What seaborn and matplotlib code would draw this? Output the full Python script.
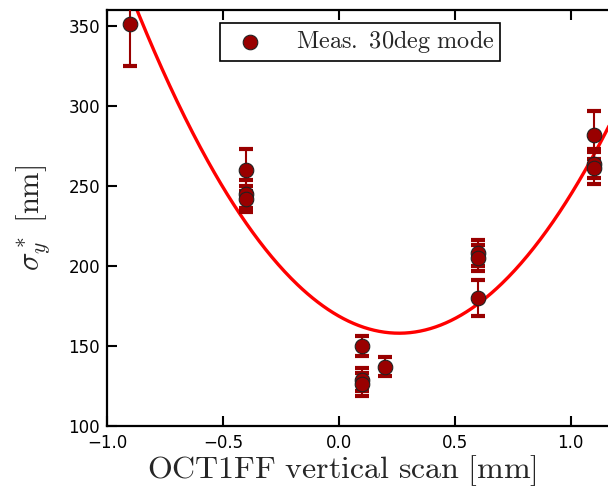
import numpy as np
import pandas as pd
import matplotlib
matplotlib.use("Agg")
import matplotlib.pyplot as plt
import seaborn as sns

# ---- data ----
scan_mm = [-0.90, -0.40, -0.40, -0.40, 0.10, 0.10, 0.10, 0.20, 0.60, 0.60, 0.60, 1.10, 1.10, 1.10]
sigma_nm = [351, 260, 245, 242, 150, 129, 126, 137, 208, 205, 180, 282, 264, 261]
sigma_err = [26, 13, 9, 8, 6, 7, 7, 6, 8, 8, 11.5, 15, 9, 10]
# parabolic fit: sigma = a*(x - x0)^2 + s0
fit_params = [158.0, 0.26, 158.0]
x_ticks = [-1.0, -0.5, 0.0, 0.5, 1.0]
y_ticks = [100, 150, 200, 250, 300, 350]
legend_label = r'$\mathrm{Meas.\ 30deg\ mode}$'

sns.set_style("ticks")
plt.rcParams.update({
    "mathtext.fontset": "cm",
    "xtick.direction": "in",
    "ytick.direction": "in",
    "xtick.top": True,
    "ytick.right": False,
})

df = pd.DataFrame({"x": scan_mm, "y": sigma_nm, "err": sigma_err})
xf = np.linspace(-1.0, 1.2, 400)
a, x0, s0 = fit_params
fit_df = pd.DataFrame({"x": xf, "y": a * (xf - x0) ** 2 + s0})

fig = plt.figure(figsize=(6.08, 4.88), dpi=100)
ax = fig.add_axes([107 / 608, 62 / 488, 510 / 608, 416 / 488])

sns.lineplot(data=fit_df, x="x", y="y", ax=ax, color="#ff0000", lw=2.4, zorder=2, legend=False)
ax.errorbar(df["x"], df["y"], yerr=df["err"], fmt="none", ecolor="#990000",
            elinewidth=1.5, capsize=5, capthick=3, zorder=3)
sns.scatterplot(data=df, x="x", y="y", ax=ax, color="#990000", s=110,
                edgecolor="#222222", linewidth=0.8, zorder=4, label=legend_label)

ax.set_xlim(-1.0, 1.2)
ax.set_ylim(100, 360)
ax.set_xticks(x_ticks)
ax.set_yticks(y_ticks)
ax.set_xticklabels([f"{v:.1f}".replace("-", "\u2212") for v in x_ticks])
ax.tick_params(axis="both", which="major", labelsize=12, length=7, width=1.5, pad=5, color="black", labelcolor="black")
ax.tick_params(axis="x", pad=6)
for sp in ax.spines.values():
    sp.set_linewidth(1.6)
    sp.set_color("black")

ax.set_xlabel(r'$\mathrm{OCT1FF\ vertical\ scan\ [mm]}$', fontsize=23)
ax.set_ylabel(r'$\sigma_y^*\ \mathrm{[nm]}$', fontsize=22)
ax.xaxis.set_label_coords(0.461, -0.066)
ax.yaxis.set_label_coords(-0.105, 0.5)

leg = ax.legend(loc="upper left", bbox_to_anchor=(0.222, 0.969), fontsize=17.5,
                frameon=True, fancybox=False, framealpha=1, edgecolor="black",
                borderpad=0.22, borderaxespad=0, handletextpad=0.9, markerscale=1.0,
                handlelength=2.0)
leg.get_frame().set_linewidth(1.2)

fig.savefig("out.png", dpi=100)
